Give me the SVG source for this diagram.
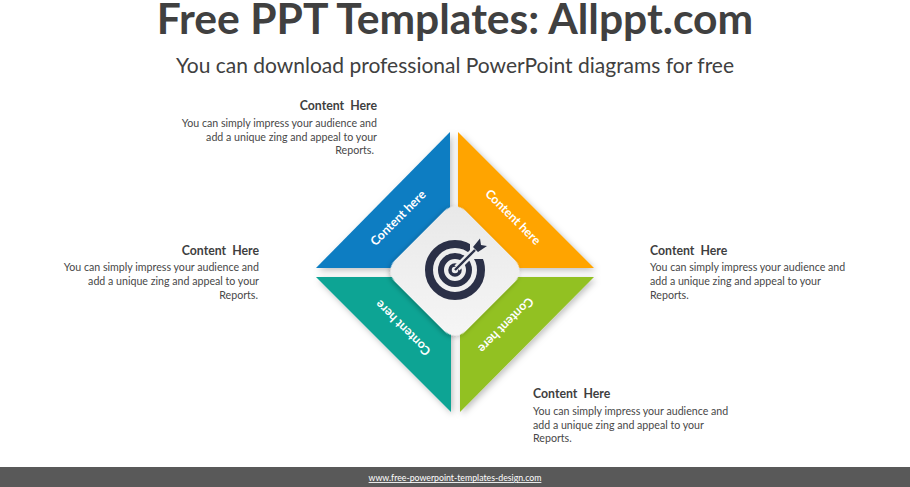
<svg xmlns="http://www.w3.org/2000/svg" width="910" height="487" viewBox="0 0 910 487">
<style>
.h{font-family:"Lato","Carlito","Liberation Sans",sans-serif;font-size:12.3px;font-weight:700;fill:#3f3f3f;white-space:pre}
.b{font-family:"Lato","Carlito","Liberation Sans",sans-serif;font-size:10.65px;fill:#484848}
.r{text-anchor:end}
.w{font-family:"Lato","Carlito","Liberation Sans",sans-serif;font-size:12.4px;font-weight:700;fill:#fff;text-anchor:middle}
</style>
<defs>
<filter id="s" x="-20%" y="-20%" width="140%" height="140%"><feDropShadow dx="2" dy="2.500" stdDeviation="3" flood-color="#000" flood-opacity=".25"/></filter>
<filter id="c" x="-20%" y="-20%" width="140%" height="140%"><feDropShadow dx="0" dy="2" stdDeviation="2.500" flood-color="#000" flood-opacity=".25"/></filter>
<linearGradient id="g" x1="0" y1="0" x2="1" y2="1"><stop offset="0" stop-color="#e8e8e8"/><stop offset="1" stop-color="#f6f6f6"/></linearGradient>
</defs>
<rect width="910" height="487" fill="#fff"/>
<text x="455" y="34" text-anchor="middle" font-family="Lato,Carlito,sans-serif" font-size="42.600" font-weight="700" fill="#404040">Free PPT Templates: Allppt.com</text>
<text x="455" y="73" text-anchor="middle" font-family="Lato,Carlito,sans-serif" font-size="21" fill="#404040">You can download professional PowerPoint diagrams for free</text>
<g id="connectors"/>
<g id="node-blue"><path d="M450 132V268H316Z" fill="#0a7dc2" filter="url(#s)"/><text class="w" transform="translate(401 221) rotate(-45)">Content here</text></g>
<g id="node-orange"><path d="M458 132L594 268H458Z" fill="#ffa400" filter="url(#s)"/><text class="w" transform="translate(510 220) rotate(45)">Content here</text></g>
<g id="node-teal"><path d="M316 277H451V412Z" fill="#0aa494" filter="url(#s)"/><text class="w" transform="translate(406 325) rotate(-135)">Content here</text></g>
<g id="node-green"><path d="M460 412V277H594Z" fill="#92c120" filter="url(#s)"/><text class="w" transform="translate(503 322) rotate(135)">Content here</text></g>
<g id="node-center">
<rect x="405" y="221" width="100" height="100" rx="15" transform="rotate(45 455 271)" fill="url(#g)" filter="url(#c)"/>
<g fill="none" stroke="#2b3047">
<circle cx="455" cy="270" r="26" stroke-width="8"/>
<circle cx="455" cy="270" r="14" stroke-width="6"/>
<circle cx="455" cy="270" r="5" stroke-width="3.500"/>
</g>
<path d="M457 268L476 249" stroke="#eeeeee" stroke-width="7" fill="none"/>
<path d="M470 237L492 259L470 259Z" fill="#eeeeee"/>
<path d="M455 270L475 250" stroke="#2b3047" stroke-width="2.400" fill="none"/>
<path d="M473 247L480 238.500L481 245L487 246L478 252Z" fill="#2b3047"/>
</g>
<g id="label-tl"><text class="h r" x="377" y="110">Content  Here</text>
<text class="b r" x="377" y="127">You can simply impress your audience and</text>
<text class="b r" x="377" y="141">add a unique zing and appeal to your</text>
<text class="b r" x="374" y="154">Reports.</text></g>
<g id="label-l"><text class="h r" x="259" y="255">Content  Here</text>
<text class="b r" x="259" y="271">You can simply impress your audience and</text>
<text class="b r" x="259" y="285">add a unique zing and appeal to your</text>
<text class="b r" x="258" y="299">Reports.</text></g>
<g id="label-r"><text class="h" x="650" y="255">Content  Here</text>
<text class="b" x="650" y="271">You can simply impress your audience and</text>
<text class="b" x="650" y="285">add a unique zing and appeal to your</text>
<text class="b" x="650" y="299">Reports.</text></g>
<g id="label-b"><text class="h" x="533" y="398">Content  Here</text>
<text class="b" x="533" y="415">You can simply impress your audience and</text>
<text class="b" x="533" y="429">add a unique zing and appeal to your</text>
<text class="b" x="533" y="442">Reports.</text></g>
<g id="footer"><rect y="467" width="910" height="20" fill="#595959"/>
<text x="455" y="481" text-anchor="middle" font-family="Lato,Carlito,'Liberation Sans',sans-serif" font-size="8.75" fill="#fff" text-decoration="underline">www.free-powerpoint-templates-design.com</text></g>
</svg>
